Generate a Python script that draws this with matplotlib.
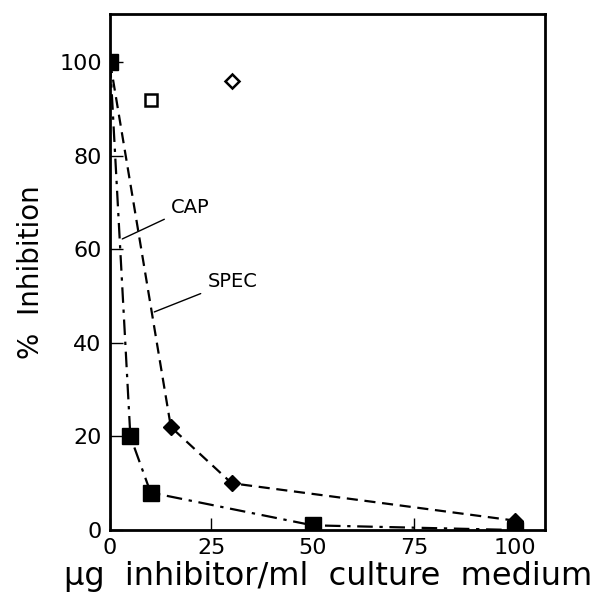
import matplotlib
matplotlib.use("Agg")
import matplotlib.pyplot as plt

cap_x = [0, 5, 10, 50, 100]
cap_y = [100, 20, 8, 1, 0]
spec_x = [0, 15, 30, 100]
spec_y = [100, 22, 10, 2]
open_sq = ([10], [92])
open_di = ([30], [96])

xticks = [0, 25, 50, 75, 100]
yticks = [0, 20, 40, 60, 80, 100]

plt.rcParams['font.family'] = ['DejaVu Sans']
fig = plt.figure(figsize=(5.92, 6.04), dpi=100)
ax = fig.add_axes([0.186, 0.1225, 0.735, 0.8545])

ax.plot(cap_x, cap_y, color='black', lw=1.6, linestyle=(0, (7, 3, 1.5, 3)),
        marker='s', ms=11, mfc='black', mec='black', zorder=3)
ax.plot(spec_x, spec_y, color='black', lw=1.6, linestyle=(0, (5, 3)),
        marker='D', ms=8, mfc='black', mec='black', zorder=3)
ax.plot(*open_sq, linestyle='none', marker='s', ms=8, mfc='white', mec='black', mew=1.8)
ax.plot(*open_di, linestyle='none', marker='D', ms=7, mfc='white', mec='black', mew=1.8)

ax.annotate('CAP', xy=(3.0, 62.2), xytext=(15, 69), fontsize=14,
            va='center', ha='left',
            arrowprops=dict(arrowstyle='-', color='black', lw=1.0, shrinkA=3, shrinkB=0))
ax.annotate('SPEC', xy=(10.9, 46.6), xytext=(24, 53.2), fontsize=14,
            va='center', ha='left',
            arrowprops=dict(arrowstyle='-', color='black', lw=1.0, shrinkA=3, shrinkB=0))

ax.set_xlim(0, 107.4)
ax.set_ylim(0, 110.3)
ax.set_xticks(xticks)
ax.set_yticks(yticks)
ax.tick_params(direction='in', length=9, width=1, labelsize=16, pad=6)
for s in ax.spines.values():
    s.set_linewidth(2)

ax.set_xlabel('µg  inhibitor/ml  culture  medium', fontsize=23, labelpad=2)
ax.set_ylabel('%  Inhibition', fontsize=20, labelpad=10)

fig.savefig('out.png', dpi=100)
